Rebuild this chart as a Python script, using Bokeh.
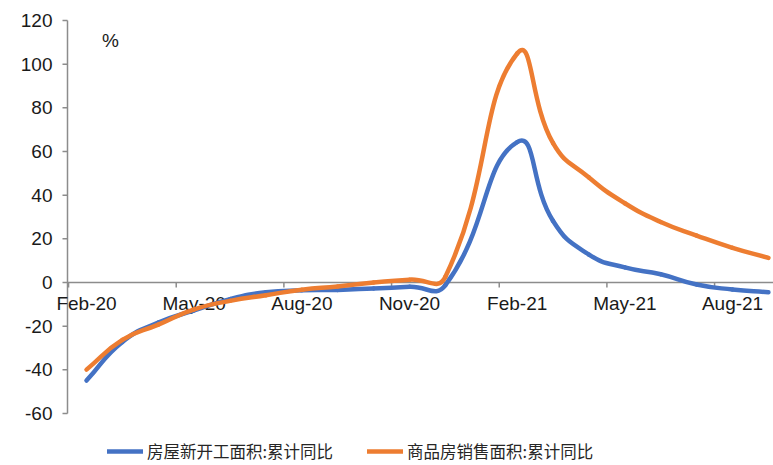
from bokeh.plotting import figure
from bokeh.models import Range1d, FixedTicker, Legend, LegendItem, ColumnDataSource
from bokeh.core.properties import value
from bokeh.embed import file_html
from bokeh.resources import INLINE
import math

# ---------------- data ----------------
months = ["Feb-20", "Mar-20", "Apr-20", "May-20", "Jun-20", "Jul-20", "Aug-20",
          "Sep-20", "Oct-20", "Nov-20", "Dec-20", "Jan-21", "Feb-21", "Mar-21",
          "Apr-21", "May-21", "Jun-21", "Jul-21", "Aug-21", "Sep-21"]
new_starts = [-44.9, -27.2, -18.4, -12.8, -7.6, -4.5, -3.6, -3.4, -2.7, -2.0,
              -1.2, None, 64.3, 28.2, 12.8, 6.9, 3.8, -0.9, -3.2, -4.5]
sales_area = [-39.9, -26.3, -19.3, -12.3, -8.4, -5.8, -3.3, -1.8, 0.0, 1.3,
              2.6, None, 104.9, 63.8, 48.1, 36.3, 27.7, 21.5, 15.9, 11.3]
tick_labels = ["Feb-20", "May-20", "Aug-20", "Nov-20", "Feb-21", "May-21", "Aug-21"]
y_ticks = [-60, -40, -20, 0, 20, 40, 60, 80, 100, 120]
series_names = ["房屋新开工面积:累计同比", "商品房销售面积:累计同比"]
colors = ["#4472C4", "#ED7D31"]

# ---------------- layout (pixels) ----------------
W, H = 773, 465
FRAME_LEFT = 50          # frame spans x 50..773, y 0..465
AXIS_PX = 67             # where the value axis line sits
FIRST_PX = 86            # centre of first category
ZERO_PX = 282            # y pixel of value 0
TOP_PX, BOT_PX = 20, 413  # pixels of 120 and -60

px_y = (BOT_PX - TOP_PX) / (max(y_ticks) - min(y_ticks))
px_x = 35.89
X0 = -(FIRST_PX - FRAME_LEFT) / px_x
X1 = (W - FIRST_PX) / px_x
Y1 = ZERO_PX / px_y
Y0 = -(H - ZERO_PX) / px_y
axis_x = X0 + (AXIS_PX - FRAME_LEFT) / px_x

p = figure(width=W, height=H, output_backend="svg", toolbar_location=None,
           x_range=Range1d(X0, X1), y_range=Range1d(Y0, Y1),
           x_axis_location=None,
           min_border_left=FRAME_LEFT, min_border_right=0,
           min_border_top=0, min_border_bottom=0)
p.grid.visible = False
p.outline_line_color = None
p.background_fill_color = "white"
p.border_fill_color = "white"

axis_gray = "#8c8c8c"
text_col = "#1a1a1a"

ya = p.yaxis[0]
ya.ticker = FixedTicker(ticks=y_ticks)
ya.major_label_overrides = {t: str(t) for t in y_ticks}
ya.minor_tick_line_color = None
ya.major_tick_in = 0
ya.major_tick_out = 0
ya.major_tick_line_color = None
ya.axis_line_color = None
ya.major_label_text_font = "Liberation Sans"
ya.major_label_text_font_size = "19px"
ya.major_label_text_color = text_col
ya.major_label_standoff = -2

# value axis line and its ticks
ymin, ymax = min(y_ticks), max(y_ticks)
p.segment(x0=[axis_x], y0=[ymin], x1=[axis_x], y1=[ymax], line_color=axis_gray, line_width=1.5)
tick_w = 5 / px_x
p.segment(x0=[axis_x - tick_w] * len(y_ticks), y0=y_ticks, x1=[axis_x] * len(y_ticks), y1=y_ticks,
          line_color=axis_gray, line_width=1.5)

# category axis at y = 0
p.segment(x0=[axis_x], y0=[0], x1=[X1], y1=[0], line_color=axis_gray, line_width=1.5)
tick_idx = [months.index(l) for l in tick_labels]
tick_pos = [i - 0.5 for i in tick_idx]
tick_len = 5 / px_y
p.segment(x0=tick_pos, y0=[0] * len(tick_pos), x1=tick_pos, y1=[-tick_len] * len(tick_pos),
          line_color=axis_gray, line_width=1.5)
p.text(x=tick_idx, y=[0] * len(tick_idx), text=tick_labels,
       text_align="center", text_baseline="top", y_offset=10,
       text_font=value("Liberation Sans"), text_font_size="19px", text_color=text_col)

p.text(x=[0.67], y=[110.9], text=["%"], text_align="center", text_baseline="middle",
       text_font=value("Liberation Sans"), text_font_size="19px", text_color=text_col)


def smooth_segments(vals, t=0.5):
    pts = [(i, v) for i, v in enumerate(vals) if v is not None]
    n = len(pts)

    def d(a, b):
        return math.hypot((b[0] - a[0]) * px_x, (b[1] - a[1]) * px_y)

    out = {k: [] for k in ["x0", "y0", "x1", "y1", "cx0", "cy0", "cx1", "cy1"]}
    for k in range(n - 1):
        P0 = pts[k - 1] if k > 0 else pts[k]
        P1 = pts[k]
        P2 = pts[k + 1]
        P3 = pts[k + 2] if k + 2 < n else pts[k + 1]
        d01, d12, d23 = d(P0, P1), d(P1, P2), d(P2, P3)
        f1 = t * d12 / (d01 + d12)
        f2 = t * d12 / (d12 + d23)
        out["x0"].append(P1[0]); out["y0"].append(P1[1])
        out["x1"].append(P2[0]); out["y1"].append(P2[1])
        out["cx0"].append(P1[0] + (P2[0] - P0[0]) * f1)
        out["cy0"].append(P1[1] + (P2[1] - P0[1]) * f1)
        out["cx1"].append(P2[0] - (P3[0] - P1[0]) * f2)
        out["cy1"].append(P2[1] - (P3[1] - P1[1]) * f2)
    return out


items = []
for vals, col, name in zip([new_starts, sales_area], colors, series_names):
    src = ColumnDataSource(smooth_segments(vals))
    r = p.bezier(x0="x0", y0="y0", x1="x1", y1="y1", cx0="cx0", cy0="cy0",
                 cx1="cx1", cy1="cy1", source=src, line_color=col, line_width=4.5,
                 line_cap="round")
    items.append(LegendItem(label=name, renderers=[r]))

legend = Legend(items=items, location=(107 - FRAME_LEFT, 2), orientation="horizontal",
                glyph_width=36, glyph_height=20, label_height=20, label_standoff=4,
                spacing=34, padding=0, margin=0, border_line_color=None,
                background_fill_alpha=0, label_text_font="Noto Sans CJK SC",
                label_text_font_size="16.5px", label_text_color="#262626")
p.add_layout(legend)

open("out.html", "w").write(file_html(p, INLINE))
